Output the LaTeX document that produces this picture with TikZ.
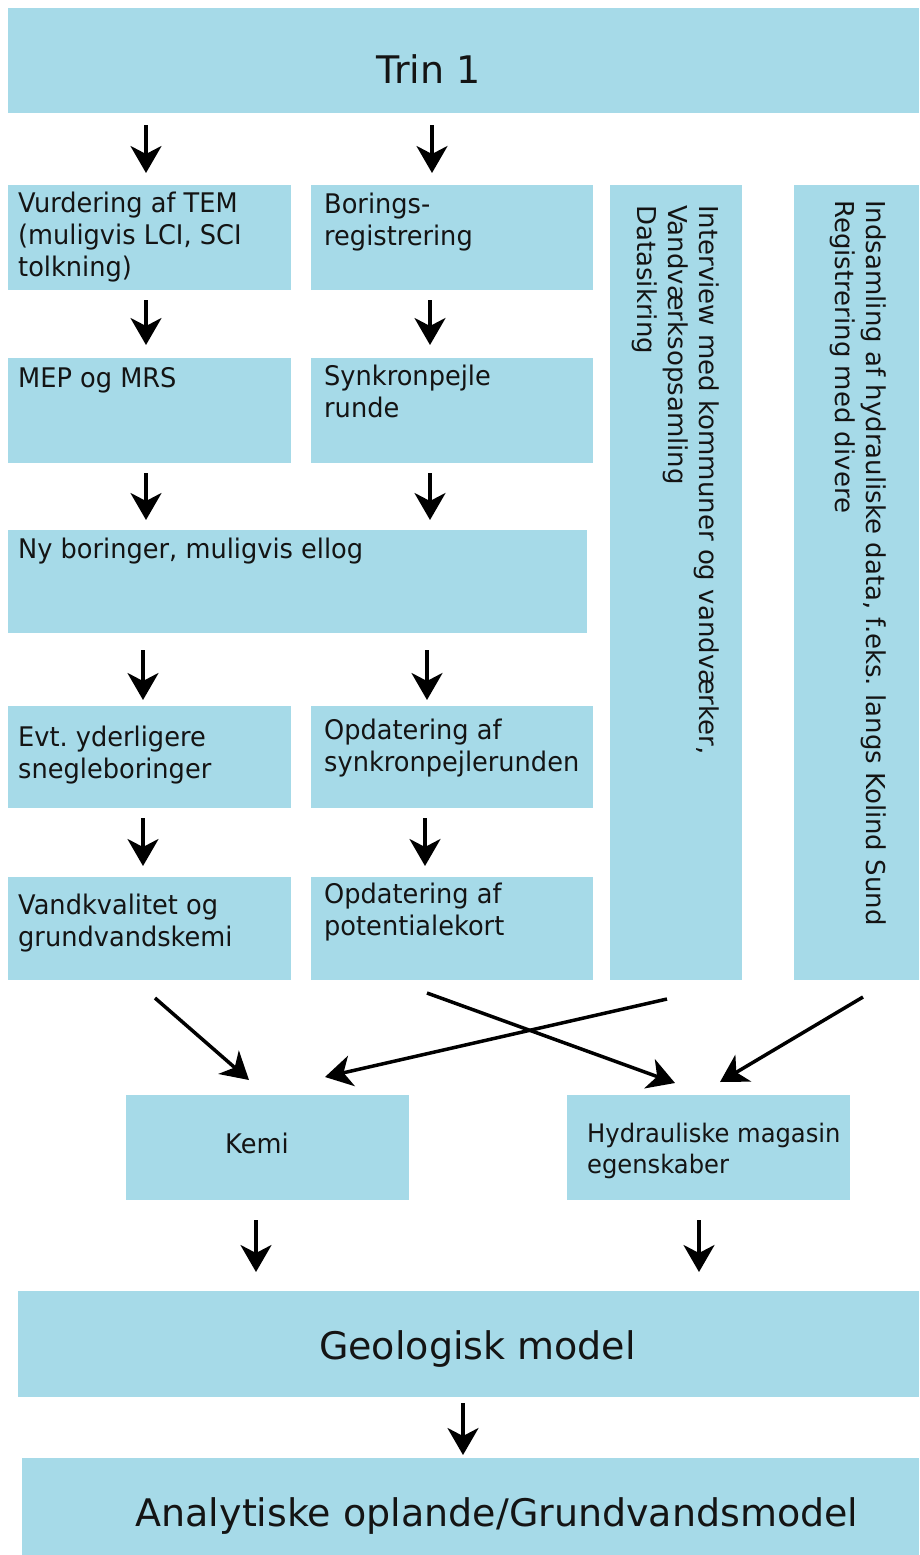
\documentclass[tikz,border=0pt]{standalone}
\usepackage{fontspec}
\setmainfont{DejaVu Sans}
\newfontfamily\boxfont[FakeStretch=0.95]{DejaVu Sans}
\usetikzlibrary{arrows.meta,calc}
\definecolor{boxblue}{RGB}{166,218,232}
\definecolor{inktext}{RGB}{20,20,20}
\newcommand{\myfl}{\rule{0pt}{22pt}}
\newcommand{\mybox}[5]{\node[boxstyle,minimum width=#4pt,minimum height=#5pt] (#1) at (#2,#3) {};}
\begin{document}
\frenchspacing
\begin{tikzpicture}[x=1pt,y=-1pt,
  boxstyle/.style={rectangle,fill=boxblue,draw=none,inner sep=0pt,outer sep=0pt,anchor=north west},
  txt/.style={font=\boxfont\fontsize{27}{32}\selectfont,text=inktext,align=left,inner sep=0pt,anchor=north west},
  vtxt/.style={font=\fontsize{26}{31}\selectfont,text=inktext,align=left,inner sep=0pt,anchor=north west,rotate=-90},
  bigtxt/.style={font=\fontsize{38}{46}\selectfont,text=inktext,inner sep=0pt,anchor=base},
  arr/.style={line width=3.5pt,-{Stealth[length=27pt,width=31pt,inset=8pt]}}]
\useasboundingbox (0,0) rectangle (919,1555);
% boxes
\mybox{trin}{8}{8}{911}{105}
\mybox{A}{8}{185}{283}{105}
\mybox{B}{311}{185}{282}{105}
\mybox{C}{610}{185}{132}{795}
\mybox{D}{794}{185}{125}{795}
\mybox{MEP}{8}{358}{283}{105}
\mybox{Syn}{311}{358}{282}{105}
\mybox{Ny}{8}{530}{579}{103}
\mybox{Evt}{8}{706}{283}{102}
\mybox{OpdA}{311}{706}{282}{102}
\mybox{Vk}{8}{877}{283}{103}
\mybox{OpdB}{311}{877}{282}{103}
\mybox{Kemi}{126}{1095}{283}{105}
\mybox{Hyd}{567}{1095}{283}{105}
\mybox{Geo}{18}{1291}{901}{106}
\mybox{Ana}{22}{1458}{897}{97}
% texts
\node[bigtxt] (tTrin) at (428.5,84) {Trin 1};
\node[bigtxt] (tGeo) at (477.5,1359) {Geologisk model};
\node[bigtxt] (tAna) at (497,1526) {Analytiske oplande/Grundvandsmodel};
\node[txt] (tA) at (18,190) {\myfl Vurdering af TEM\\(muligvis LCI, SCI\\tolkning)};
\node[txt] (tB) at (324,191) {\myfl Borings-\\registrering};
\node[txt] (tMEP) at (18,365) {\myfl MEP og MRS};
\node[txt] (tSyn) at (324,363) {\myfl Synkronpejle\\runde};
\node[txt] (tNy) at (18,536) {\myfl Ny boringer, muligvis ellog};
\node[txt] (tEvt) at (18,724) {\myfl Evt. yderligere\\snegleboringer};
\node[txt] (tOpdA) at (324,717) {\myfl Opdatering af\\synkronpejlerunden};
\node[txt] (tVk) at (18,892) {\myfl Vandkvalitet og\\grundvandskemi};
\node[txt] (tOpdB) at (324,881) {\myfl Opdatering af\\potentialekort};
\node[txt] (tKemi) at (225,1131) {\myfl Kemi};
\node[txt,font=\boxfont\fontsize{25.5}{31}\selectfont] (tHyd) at (587,1120) {\myfl Hydrauliske magasin\\egenskaber};
\node[vtxt] (tC) at (722,205) {\myfl Interview med kommuner og vandværker,\\Vandværksopsamling\\Datasikring};
\node[vtxt] (tD) at (889,200) {\myfl Indsamling af hydrauliske data, f.eks. langs Kolind Sund\\Registrering med divere};
% vertical arrows, column 1
\draw[arr,shorten <=12pt,shorten >=12pt] ([xshift=-3.5pt]trin.south -| A.north) -- ([xshift=-3.5pt]A.north);
\draw[arr,shorten <=10pt,shorten >=13pt] ([xshift=-3.5pt]A.south) -- ([xshift=-3.5pt]MEP.north);
\draw[arr,shorten <=10pt,shorten >=10pt] ([xshift=-3.5pt]MEP.south) -- ([xshift=-3.5pt]MEP.south |- Ny.north);
\draw[arr,shorten <=17pt,shorten >=6pt] ([xshift=-6.5pt]Ny.south -| Evt.north) -- ([xshift=-6.5pt]Evt.north);
\draw[arr,shorten <=10pt,shorten >=11pt] ([xshift=-6.5pt]Evt.south) -- ([xshift=-6.5pt]Vk.north);
% vertical arrows, column 2
\draw[arr,shorten <=12pt,shorten >=12pt] ([xshift=-20pt]trin.south -| B.north) -- ([xshift=-20pt]B.north);
\draw[arr,shorten <=10pt,shorten >=13pt] ([xshift=-22pt]B.south) -- ([xshift=-22pt]Syn.north);
\draw[arr,shorten <=10pt,shorten >=10pt] ([xshift=-22pt]Syn.south) -- ([xshift=-22pt]Syn.south |- Ny.north);
\draw[arr,shorten <=17pt,shorten >=6pt] ([xshift=-25pt]Ny.south -| OpdA.north) -- ([xshift=-25pt]OpdA.north);
\draw[arr,shorten <=10pt,shorten >=11pt] ([xshift=-27pt]OpdA.south) -- ([xshift=-27pt]OpdB.north);
% diagonal arrows
\draw[arr] ($(Vk.south)+(5.5,18)$) -- ($(Kemi.north)+(-18.5,-15)$);
\draw[arr] ($(C.south)+(-9,19)$) -- ($(Kemi.north)+(57.5,-18)$);
\draw[arr] ($(OpdB.south)+(-25,13)$) -- ($(Hyd.north)+(-33.5,-12)$);
\draw[arr] ($(D.south)+(6.5,17)$) -- ($(Hyd.north)+(11.5,-13)$);
% lower arrows
\draw[arr,shorten <=20pt,shorten >=19pt] ([xshift=-11.5pt]Kemi.south) -- ([xshift=-11.5pt]Kemi.south |- Geo.north);
\draw[arr,shorten <=20pt,shorten >=19pt] ([xshift=-9.5pt]Hyd.south) -- ([xshift=-9.5pt]Hyd.south |- Geo.north);
\draw[arr,shorten <=6pt,shorten >=3pt] ([xshift=-5.5pt]Geo.south) -- ([xshift=-5.5pt]Geo.south |- Ana.north);
\end{tikzpicture}
\end{document}
